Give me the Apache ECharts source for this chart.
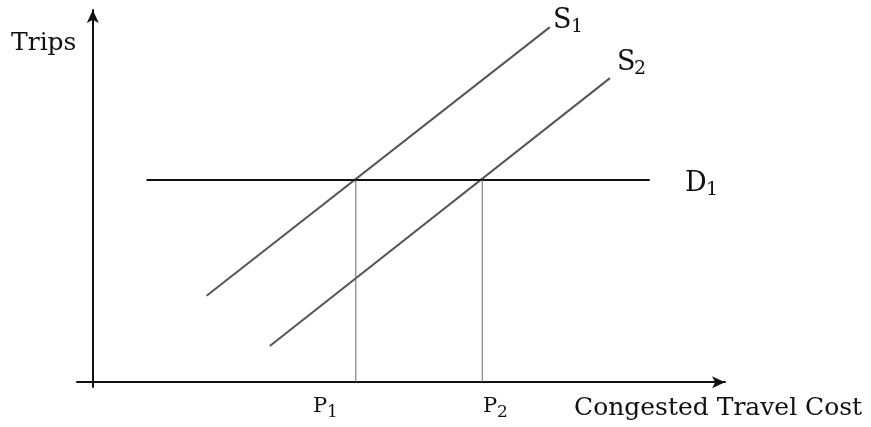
<!DOCTYPE html>
<html>
<head>
<meta charset="utf-8">
<style>
  html, body { margin: 0; padding: 0; background: #fff; }
  #chart { width: 871px; height: 427px; }
</style>
</head>
<body>
<div id="chart"></div>
<script src="https://cdn.jsdelivr.net/npm/echarts@6/dist/echarts.min.js"></script>
<script>
// supply / demand lines (x: cost, y: trips)
var s1 = [[18.0, 23.2], [72.3, 95.4]];
var s2 = [[28.0, 9.7], [81.8, 81.7]];
var d1 = [[8.5, 54.3], [88.1, 54.3]];
var p1 = [[41.6, 0], [41.6, 54.3]];
var p2 = [[61.6, 0], [61.6, 54.3]];

var font = '"DejaVu Serif", serif';

function txt(t, x, y, size) {
    return { type: 'text', left: x, top: y, silent: true,
        style: { text: t, font: size + 'px ' + font, fill: '#111' } };
}

function line(data, color, width) {
    return {
        type: 'line', data: data, symbol: 'none', silent: true,
        lineStyle: { color: color, width: width }
    };
}

var dom = document.getElementById('chart');
var myChart = echarts.init(dom);
var option = {
    animation: false,
    grid: { left: 77, right: 146, top: 10, bottom: 40 },
    xAxis: {
        type: 'value', min: -2.5, max: 100,
        splitLine: { show: false }, axisTick: { show: false }, axisLabel: { show: false },
        axisLine: { onZero: true, symbol: ['none', 'arrow'], symbolSize: [9, 13],
            lineStyle: { color: '#111', width: 2 } }
    },
    yAxis: {
        type: 'value', min: -1.3, max: 100,
        splitLine: { show: false }, axisTick: { show: false }, axisLabel: { show: false },
        axisLine: { onZero: true, symbol: ['none', 'arrow'], symbolSize: [9, 13],
            lineStyle: { color: '#111', width: 2 } }
    },
    series: [
        line(s1, '#555', 2),
        line(s2, '#555', 2),
        line(d1, '#111', 2),
        line(p1, '#666', 1),
        line(p2, '#666', 1)
    ],
    graphic: [
        txt('Trips', 11, 31, 25),
        txt('Congested Travel Cost', 574, 396, 25),
        txt('S', 553, 7, 27), txt('1', 571, 18, 19),
        txt('S', 617, 49, 27), txt('2', 634, 60, 19),
        txt('D', 685, 170, 27), txt('1', 706, 181, 19),
        txt('P', 313, 396, 21), txt('1', 327, 404, 17),
        txt('P', 483, 396, 21), txt('2', 497, 404, 17)
    ]
};
myChart.setOption(option);
</script>
</body>
</html>
